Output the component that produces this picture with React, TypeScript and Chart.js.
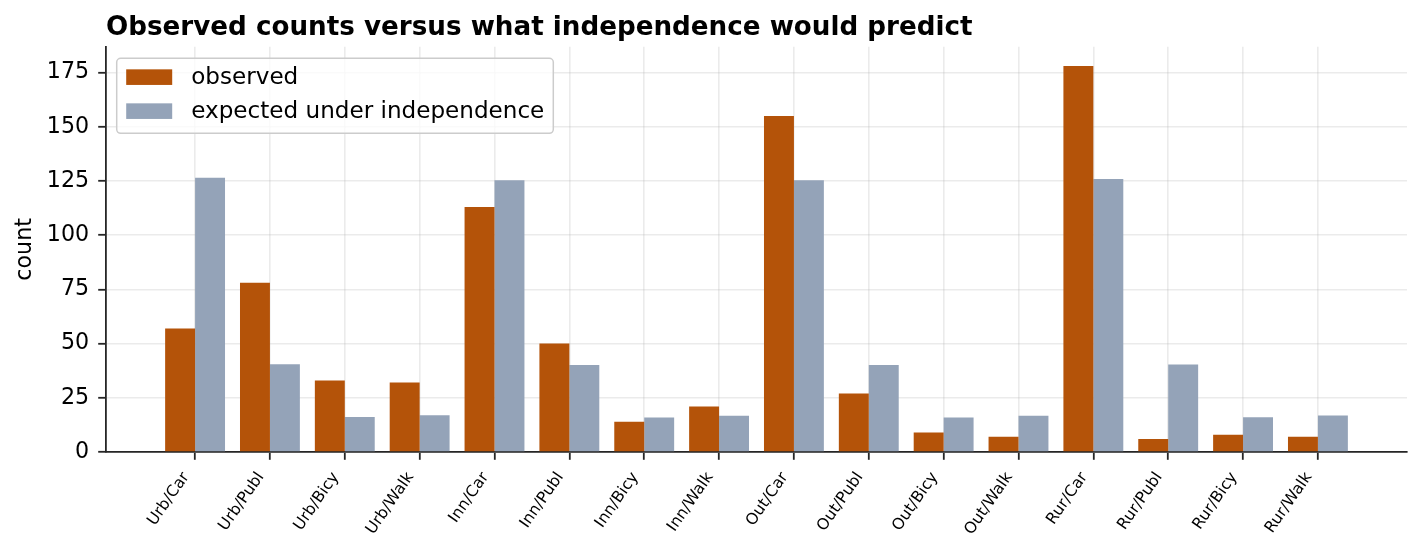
import { useEffect, useRef } from 'react';
import { Chart, registerables, type Plugin } from 'chart.js';

Chart.register(...registerables);

// cell labels (residence / mode), in plot order
const categories = [
    'Urb/Car', 'Urb/Publ', 'Urb/Bicy', 'Urb/Walk',
    'Inn/Car', 'Inn/Publ', 'Inn/Bicy', 'Inn/Walk',
    'Out/Car', 'Out/Publ', 'Out/Bicy', 'Out/Walk',
    'Rur/Car', 'Rur/Publ', 'Rur/Bicy', 'Rur/Walk',
];

const observed = [57, 78, 33, 32, 113, 50, 14, 21, 155, 27, 9, 7, 178, 6, 8, 7];

const expected = [
    126.5, 40.5, 16.1, 16.9,
    125.3, 40.1, 15.9, 16.7,
    125.3, 40.1, 15.9, 16.7,
    125.9, 40.3, 16.0, 16.8,
];

const yTicks = [0, 25, 50, 75, 100, 125, 150, 175];

const FONT = "'DejaVu Sans', sans-serif";
const INK = '#262626';
const GRID = 'rgba(176,176,176,0.25)';

// matplotlib-style framed legend in the upper left of the plot
const boxLegend: Plugin<'bar'> = {
    id: 'boxLegend',
    afterDraw(chart) {
        const { ctx, chartArea } = chart;
        const sets = chart.data.datasets;
        ctx.save();
        ctx.font = `23.1px ${FONT}`;
        const textW = Math.max(
            ...sets.map((d) => ctx.measureText(String(d.label)).width)
        );
        const x0 = chartArea.left + 10.7;
        const y0 = chartArea.top + 11.6;
        const w = 9.5 + 46 + 19 + textW + 9;
        const h = 75;

        ctx.beginPath();
        ctx.roundRect(x0, y0, w, h, 4);
        ctx.fillStyle = 'rgba(255,255,255,0.8)';
        ctx.fill();
        ctx.lineWidth = 1.5;
        ctx.strokeStyle = '#cccccc';
        ctx.stroke();

        sets.forEach((d, i) => {
            const sy = y0 + 11 + i * 34;
            ctx.fillStyle = d.backgroundColor as string;
            ctx.fillRect(x0 + 9.5, sy, 46, 15.6);
            ctx.fillStyle = '#000';
            ctx.textBaseline = 'alphabetic';
            ctx.textAlign = 'left';
            ctx.fillText(String(d.label), x0 + 9.5 + 46 + 19, sy + 15);
        });
        ctx.restore();
    },
};

export default function App() {
    const chartRef = useRef<HTMLCanvasElement>(null);
    const chartInstance = useRef<Chart | null>(null);

    useEffect(() => {
        if (!chartRef.current) return;
        if (chartInstance.current) chartInstance.current.destroy();

        const ctx = chartRef.current.getContext('2d');
        if (!ctx) return;

        const grid = {
            color: GRID,
            lineWidth: 1.6,
            tickColor: INK,
            tickWidth: 1.8,
            tickLength: 7.8,
            offset: false,
        };
        const border = { display: true, color: INK, width: 1.8 };

        chartInstance.current = new Chart(ctx, {
            type: 'bar',
            data: {
                datasets: [
                    {
                        label: 'observed',
                        data: observed.map((y, i) => ({ x: i, y })),
                        backgroundColor: '#b45309',
                        borderWidth: 0,
                        barPercentage: 1,
                        categoryPercentage: 0.8,
                    },
                    {
                        label: 'expected under independence',
                        data: expected.map((y, i) => ({ x: i, y })),
                        backgroundColor: '#94a3b8',
                        borderWidth: 0,
                        barPercentage: 1,
                        categoryPercentage: 0.8,
                    },
                ],
            },
            options: {
                responsive: false,
                animation: false,
                layout: { padding: { left: 0, right: 13, top: 0, bottom: 0 } },
                plugins: {
                    legend: { display: false },
                    tooltip: { enabled: false },
                    title: {
                        display: true,
                        text: 'Observed counts versus what independence would predict',
                        align: 'start',
                        fullSize: false,
                        color: '#000',
                        font: { family: FONT, size: 26.2, weight: 'bold' },
                        padding: { top: 12, bottom: 3.3 },
                    },
                },
                scales: {
                    x: {
                        type: 'linear',
                        min: -1.19,
                        max: 16.19,
                        offset: false,
                        z: 1,
                        afterBuildTicks: (s) => {
                            s.ticks = categories.map((_, i) => ({ value: i }));
                        },
                        afterFit: (s) => {
                            s.height = 98;
                        },
                        ticks: {
                            autoSkip: false,
                            minRotation: 55,
                            maxRotation: 55,
                            labelOffset: -9,
                            padding: 9,
                            color: '#000',
                            font: { family: FONT, size: 15.8 },
                            callback: (v) => categories[v as number] ?? '',
                        },
                        grid,
                        border,
                    },
                    y: {
                        min: 0,
                        max: 186.9,
                        z: 1,
                        afterBuildTicks: (s) => {
                            s.ticks = yTicks.map((v) => ({ value: v }));
                        },
                        afterFit: (s) => {
                            s.width = 106;
                        },
                        ticks: {
                            padding: 9,
                            color: '#000',
                            font: { family: FONT, size: 22.2 },
                        },
                        title: {
                            display: true,
                            text: 'count',
                            color: '#000',
                            font: { family: FONT, size: 22.2 },
                            padding: { top: 12.3, bottom: 0 },
                        },
                        grid,
                        border,
                    },
                },
            },
            plugins: [boxLegend],
        });

        return () => {
            if (chartInstance.current) {
                chartInstance.current.destroy();
                chartInstance.current = null;
            }
        };
    }, []);

    return (
        <div
            style={{
                position: 'fixed',
                left: 0,
                top: 0,
                width: 1420,
                height: 550,
                background: '#fff',
            }}
        >
            <canvas
                ref={chartRef}
                width={1420}
                height={550}
                style={{ display: 'block' }}
            ></canvas>
        </div>
    );
}
